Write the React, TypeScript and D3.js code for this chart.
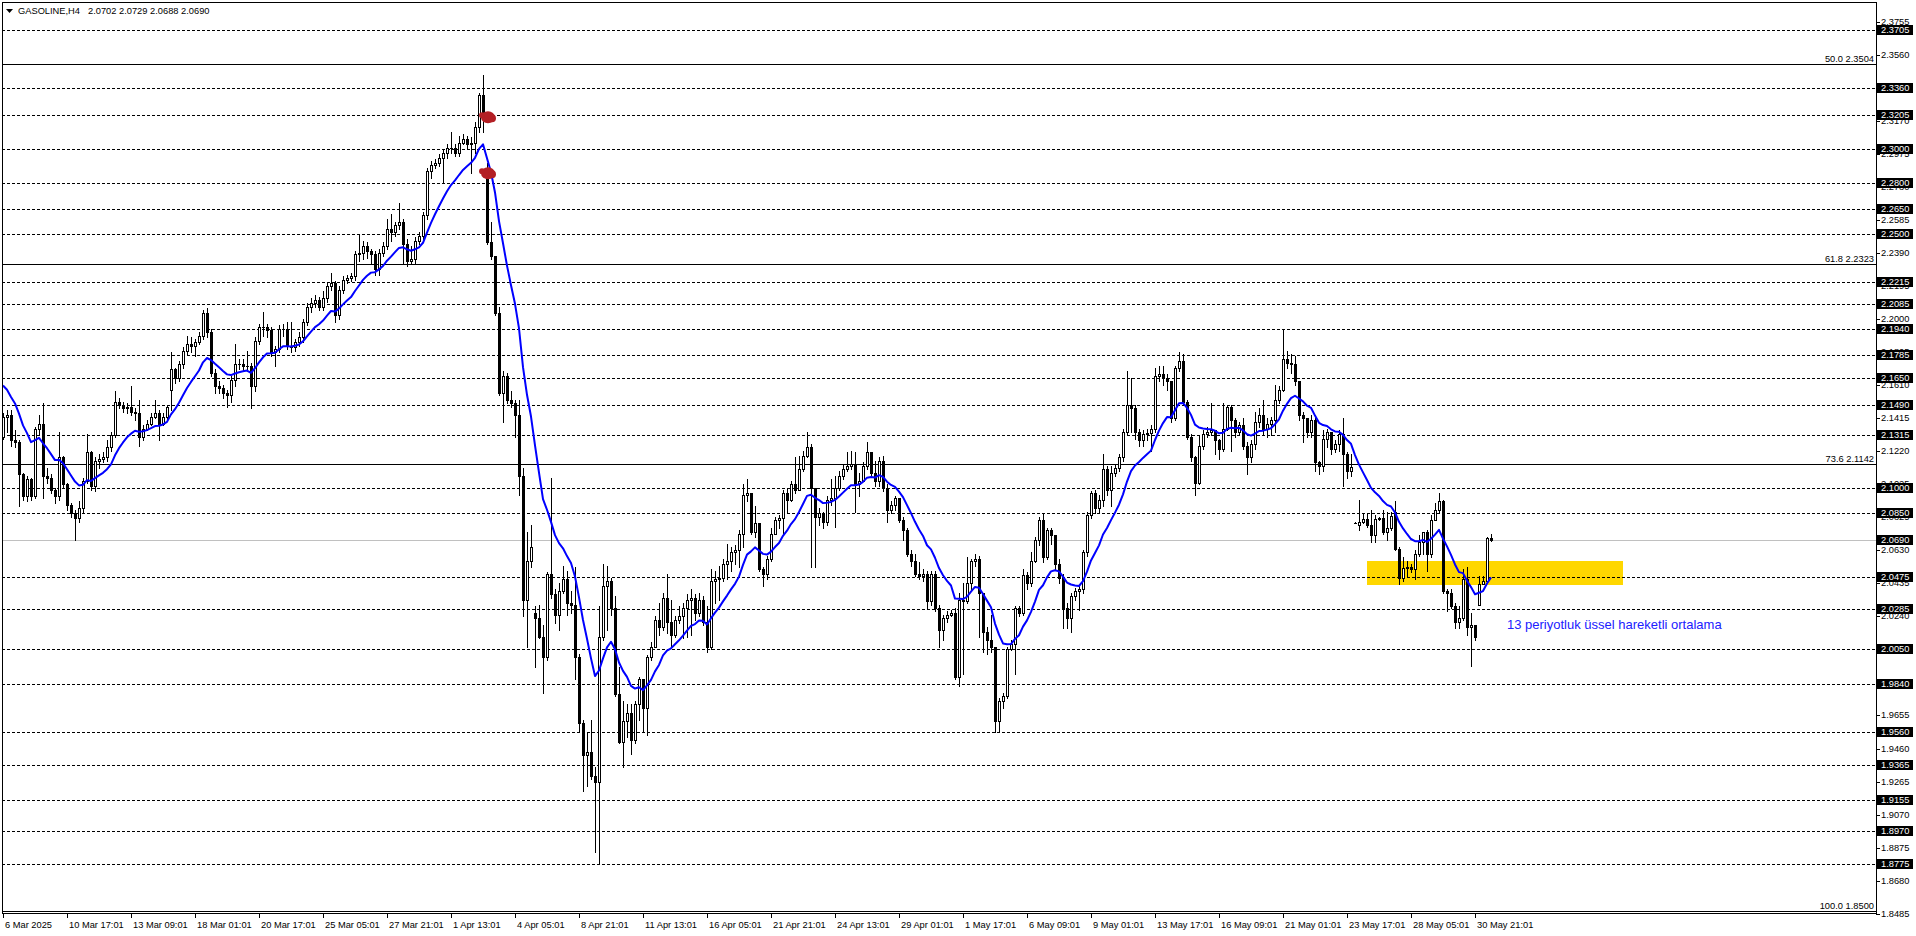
import React, { useEffect, useRef } from 'react';
import * as d3 from 'd3';

const W = 1916;
const H = 936;

// H4 bars, 6 Mar 2025 -> 30 May 2025
const firstOpen = 2.130;
const emaSeed = 2.1635;
const emaPeriod = 13;

const closes = [
  2.142, 2.143, 2.128, 2.127, 2.108, 2.095, 2.105, 2.095, 2.135, 2.138,
  2.107, 2.106, 2.099, 2.095, 2.118, 2.102, 2.090, 2.085, 2.082, 2.088,
  2.104, 2.121, 2.101, 2.116, 2.117, 2.118, 2.124, 2.131, 2.151, 2.149,
  2.147, 2.148, 2.145, 2.144, 2.130, 2.135, 2.138, 2.142, 2.144, 2.138,
  2.142, 2.148, 2.170, 2.165, 2.173, 2.181, 2.185, 2.184, 2.186, 2.190,
  2.203, 2.192, 2.168, 2.160, 2.159, 2.156, 2.155, 2.164, 2.173, 2.173,
  2.172, 2.172, 2.160, 2.187, 2.195, 2.195, 2.193, 2.180, 2.182, 2.194,
  2.194, 2.184, 2.183, 2.186, 2.189, 2.198, 2.207, 2.209, 2.211, 2.207,
  2.212, 2.219, 2.221, 2.202, 2.217, 2.223, 2.224, 2.225, 2.238, 2.239,
  2.243, 2.240, 2.238, 2.229, 2.239, 2.243, 2.253, 2.251, 2.255, 2.257,
  2.244, 2.234, 2.235, 2.246, 2.249, 2.261, 2.287, 2.291, 2.292, 2.295,
  2.298, 2.301, 2.301, 2.298, 2.304, 2.306, 2.303, 2.304, 2.313, 2.332,
  2.319, 2.245, 2.237, 2.203, 2.156, 2.166, 2.152, 2.150, 2.143, 2.107,
  2.034, 2.057, 2.065, 2.023, 2.012, 2.000, 2.049, 2.037, 2.025, 2.039,
  2.046, 2.032, 2.031, 2.000, 1.961, 1.942, 1.944, 1.930, 1.926, 2.012,
  2.042, 2.045, 2.029, 1.978, 1.950, 1.962, 1.967, 1.951, 1.972, 1.987,
  1.970, 2.000, 2.006, 2.022, 2.018, 2.035, 2.021, 2.013, 2.022, 2.024,
  2.029, 2.034, 2.035, 2.026, 2.034, 2.021, 2.006, 2.045, 2.046, 2.047,
  2.055, 2.057, 2.062, 2.063, 2.073, 2.096, 2.097, 2.074, 2.079, 2.052,
  2.049, 2.058, 2.073, 2.081, 2.082, 2.097, 2.093, 2.102, 2.099, 2.111,
  2.119, 2.124, 2.100, 2.083, 2.085, 2.080, 2.093, 2.094, 2.100, 2.107,
  2.111, 2.113, 2.114, 2.102, 2.104, 2.113, 2.121, 2.109, 2.104, 2.116,
  2.100, 2.087, 2.090, 2.094, 2.081, 2.075, 2.061, 2.057, 2.049, 2.048,
  2.049, 2.033, 2.049, 2.029, 2.016, 2.023, 2.025, 2.026, 1.988, 2.034,
  2.033, 2.044, 2.057, 2.058, 2.038, 2.015, 2.010, 2.006, 1.962, 1.974,
  1.977, 2.005, 2.008, 2.029, 2.026, 2.0485, 2.044, 2.057, 2.069, 2.081,
  2.059, 2.075, 2.072, 2.055, 2.047, 2.029, 2.023, 2.036, 2.039, 2.040,
  2.062, 2.084, 2.097, 2.088, 2.093, 2.111, 2.099, 2.109, 2.112, 2.118,
  2.133, 2.149, 2.147, 2.133, 2.128, 2.132, 2.1325, 2.135, 2.166, 2.167,
  2.165, 2.163, 2.141, 2.171, 2.175, 2.151, 2.130, 2.118, 2.103, 2.125,
  2.132, 2.133, 2.134, 2.128, 2.123, 2.135, 2.148, 2.140, 2.133, 2.137,
  2.125, 2.118, 2.126, 2.139, 2.143, 2.135, 2.138, 2.140, 2.152, 2.158,
  2.176, 2.174, 2.173, 2.163, 2.143, 2.141, 2.133, 2.140, 2.115, 2.113,
  2.129, 2.133, 2.123, 2.126, 2.132, 2.120, 2.110, 2.1125, 2.0795, 2.080,
  2.0814, 2.078, 2.072, 2.0814, 2.0824, 2.074, 2.0765, 2.0834, 2.064, 2.047,
  2.0525, 2.053, 2.052, 2.061, 2.068, 2.074, 2.061, 2.081, 2.087, 2.092,
  2.039, 2.038, 2.030, 2.021, 2.023, 2.046, 2.018, 2.019, 2.012, 2.043,
  2.045, 2.0702, 2.0690,
];

const highs = [
  2.144, 2.146, 2.146, 2.134, 2.128, 2.109, 2.107, 2.106, 2.136, 2.143,
  2.150, 2.112, 2.108, 2.100, 2.133, 2.119, 2.103, 2.091, 2.087, 2.092,
  2.106, 2.132, 2.122, 2.118, 2.120, 2.121, 2.128, 2.133, 2.157, 2.153,
  2.151, 2.150, 2.160, 2.147, 2.152, 2.137, 2.140, 2.144, 2.152, 2.146,
  2.144, 2.149, 2.180, 2.171, 2.175, 2.183, 2.190, 2.189, 2.188, 2.192,
  2.205, 2.206, 2.194, 2.170, 2.163, 2.161, 2.158, 2.166, 2.185, 2.176,
  2.176, 2.181, 2.174, 2.189, 2.197, 2.204, 2.197, 2.195, 2.184, 2.196,
  2.197, 2.198, 2.198, 2.188, 2.192, 2.200, 2.209, 2.212, 2.214, 2.213,
  2.216, 2.221, 2.227, 2.222, 2.219, 2.225, 2.226, 2.227, 2.240, 2.250,
  2.246, 2.245, 2.241, 2.240, 2.241, 2.245, 2.259, 2.262, 2.257, 2.268,
  2.259, 2.247, 2.243, 2.248, 2.251, 2.263, 2.289, 2.293, 2.294, 2.297,
  2.300, 2.303, 2.310, 2.303, 2.308, 2.309, 2.308, 2.307, 2.316, 2.333,
  2.344, 2.292, 2.257, 2.236, 2.207, 2.169, 2.168, 2.157, 2.152, 2.152,
  2.112, 2.074, 2.078, 2.030, 2.031, 2.019, 2.050, 2.106, 2.040, 2.044,
  2.054, 2.051, 2.039, 2.053, 2.002, 1.963, 1.955, 1.963, 1.935, 2.030,
  2.055, 2.054, 2.047, 2.036, 1.994, 1.974, 1.972, 1.972, 1.974, 1.988,
  1.987, 2.001, 2.009, 2.024, 2.032, 2.038, 2.049, 2.034, 2.024, 2.030,
  2.032, 2.037, 2.040, 2.037, 2.038, 2.036, 2.030, 2.052, 2.051, 2.054,
  2.058, 2.067, 2.065, 2.066, 2.075, 2.102, 2.105, 2.093, 2.089, 2.079,
  2.053, 2.060, 2.076, 2.083, 2.084, 2.099, 2.100, 2.104, 2.118, 2.119,
  2.122, 2.133, 2.126, 2.095, 2.088, 2.086, 2.095, 2.105, 2.107, 2.110,
  2.114, 2.121, 2.122, 2.121, 2.109, 2.115, 2.127, 2.121, 2.116, 2.118,
  2.119, 2.102, 2.092, 2.095, 2.094, 2.083, 2.076, 2.063, 2.061, 2.056,
  2.052, 2.051, 2.051, 2.051, 2.031, 2.025, 2.027, 2.028, 2.029, 2.038,
  2.044, 2.059, 2.058, 2.061, 2.060, 2.038, 2.018, 2.025, 2.006, 1.976,
  1.979, 2.006, 2.010, 2.030, 2.030, 2.052, 2.050, 2.062, 2.071, 2.083,
  2.085, 2.076, 2.076, 2.072, 2.058, 2.049, 2.032, 2.038, 2.041, 2.042,
  2.063, 2.086, 2.098, 2.099, 2.096, 2.120, 2.113, 2.113, 2.114, 2.120,
  2.135, 2.169, 2.165, 2.149, 2.135, 2.134, 2.135, 2.137, 2.171, 2.172,
  2.172, 2.167, 2.163, 2.172, 2.180, 2.179, 2.152, 2.132, 2.119, 2.131,
  2.134, 2.136, 2.150, 2.134, 2.129, 2.150, 2.149, 2.149, 2.141, 2.139,
  2.141, 2.127, 2.128, 2.145, 2.147, 2.152, 2.141, 2.142, 2.161, 2.160,
  2.194, 2.181, 2.179, 2.178, 2.163, 2.145, 2.141, 2.143, 2.142, 2.116,
  2.134, 2.135, 2.127, 2.128, 2.134, 2.141, 2.121, 2.120, 2.0797, 2.093,
  2.085, 2.085, 2.087, 2.084, 2.083, 2.087, 2.086, 2.086, 2.092, 2.065,
  2.059, 2.057, 2.055, 2.063, 2.072, 2.074, 2.075, 2.084, 2.091, 2.097,
  2.093, 2.040, 2.040, 2.032, 2.030, 2.052, 2.053, 2.026, 2.019, 2.048,
  2.048, 2.071, 2.0729,
];

const lows = [
  2.129, 2.133, 2.125, 2.124, 2.089, 2.093, 2.092, 2.093, 2.094, 2.132,
  2.094, 2.103, 2.097, 2.091, 2.093, 2.100, 2.087, 2.083, 2.069, 2.080,
  2.086, 2.103, 2.099, 2.098, 2.112, 2.115, 2.116, 2.122, 2.130, 2.147,
  2.145, 2.144, 2.143, 2.140, 2.125, 2.128, 2.134, 2.137, 2.141, 2.128,
  2.137, 2.140, 2.146, 2.162, 2.163, 2.171, 2.179, 2.180, 2.178, 2.185,
  2.188, 2.189, 2.166, 2.156, 2.156, 2.153, 2.148, 2.151, 2.160, 2.170,
  2.169, 2.169, 2.147, 2.157, 2.185, 2.190, 2.189, 2.178, 2.172, 2.180,
  2.190, 2.182, 2.180, 2.181, 2.184, 2.186, 2.196, 2.204, 2.207, 2.205,
  2.205, 2.210, 2.217, 2.198, 2.200, 2.215, 2.221, 2.222, 2.223, 2.234,
  2.235, 2.236, 2.233, 2.226, 2.226, 2.237, 2.241, 2.246, 2.249, 2.253,
  2.233, 2.231, 2.232, 2.233, 2.244, 2.247, 2.259, 2.283, 2.289, 2.290,
  2.280, 2.295, 2.298, 2.296, 2.296, 2.303, 2.300, 2.286, 2.298, 2.310,
  2.310, 2.244, 2.235, 2.202, 2.155, 2.139, 2.150, 2.148, 2.130, 2.096,
  2.024, 2.006, 2.053, 1.994, 2.011, 1.979, 1.998, 2.035, 2.020, 2.016,
  2.038, 2.025, 2.026, 1.987, 1.956, 1.921, 1.924, 1.928, 1.885, 1.878,
  2.010, 2.016, 2.025, 1.977, 1.949, 1.935, 1.953, 1.943, 1.949, 1.963,
  1.956, 1.954, 1.998, 2.006, 2.013, 2.016, 2.014, 2.006, 2.012, 2.020,
  2.011, 2.012, 2.013, 2.022, 2.024, 2.019, 2.003, 2.005, 2.032, 2.034,
  2.045, 2.046, 2.051, 2.055, 2.053, 2.065, 2.092, 2.073, 2.071, 2.051,
  2.042, 2.046, 2.057, 2.075, 2.076, 2.073, 2.085, 2.092, 2.097, 2.099,
  2.110, 2.118, 2.053, 2.053, 2.078, 2.076, 2.078, 2.090, 2.077, 2.099,
  2.105, 2.110, 2.111, 2.086, 2.095, 2.104, 2.111, 2.107, 2.101, 2.101,
  2.098, 2.080, 2.085, 2.087, 2.080, 2.069, 2.060, 2.054, 2.048, 2.046,
  2.045, 2.029, 2.031, 2.027, 2.006, 2.010, 2.021, 2.024, 1.987, 1.983,
  1.990, 2.032, 2.040, 2.054, 2.012, 2.003, 2.002, 2.003, 1.956, 1.956,
  1.970, 1.976, 2.004, 1.990, 2.024, 2.025, 2.040, 2.042, 2.056, 2.066,
  2.056, 2.058, 2.067, 2.052, 2.044, 2.017, 2.017, 2.015, 2.034, 2.028,
  2.038, 2.060, 2.082, 2.085, 2.086, 2.089, 2.096, 2.089, 2.107, 2.110,
  2.116, 2.131, 2.133, 2.129, 2.125, 2.125, 2.128, 2.122, 2.133, 2.163,
  2.161, 2.158, 2.139, 2.140, 2.169, 2.149, 2.129, 2.116, 2.096, 2.102,
  2.123, 2.130, 2.131, 2.120, 2.117, 2.122, 2.134, 2.122, 2.130, 2.131,
  2.123, 2.108, 2.115, 2.123, 2.136, 2.132, 2.130, 2.131, 2.133, 2.150,
  2.157, 2.171, 2.168, 2.161, 2.140, 2.127, 2.130, 2.130, 2.110, 2.108,
  2.110, 2.124, 2.120, 2.121, 2.122, 2.101, 2.106, 2.107, 2.0792, 2.075,
  2.079, 2.077, 2.068, 2.068, 2.081, 2.073, 2.069, 2.075, 2.063, 2.043,
  2.045, 2.048, 2.050, 2.046, 2.060, 2.061, 2.051, 2.059, 2.081, 2.086,
  2.038, 2.027, 2.029, 2.017, 2.017, 2.022, 2.013, 1.995, 2.010, 2.031,
  2.044, 2.045, 2.0688,
];

// bars whose open differs from the previous close (price gaps)
const gapOpens: Record<number, number> = {
  42: 2.158, 121: 2.286, 133: 2.026, 338: 2.0795, 339: 2.078, 348: 2.086, 369: 2.031,
};

const dateLabels = [
  '6 Mar 2025', '10 Mar 17:01', '13 Mar 09:01', '18 Mar 01:01', '20 Mar 17:01', '25 Mar 05:01',
  '27 Mar 21:01', '1 Apr 13:01', '4 Apr 05:01', '8 Apr 21:01', '11 Apr 13:01', '16 Apr 05:01',
  '21 Apr 21:01', '24 Apr 13:01', '29 Apr 01:01', '1 May 17:01', '6 May 09:01', '9 May 01:01',
  '13 May 17:01', '16 May 09:01', '21 May 01:01', '23 May 17:01', '28 May 05:01', '30 May 21:01',
];
const barsPerLabel = 16;

const axisTicks = [
  2.3755, 2.3560, 2.3365, 2.3170, 2.2975, 2.2780, 2.2585, 2.2390, 2.2195, 2.2000,
  2.1805, 2.1610, 2.1415, 2.1220, 2.1025, 2.0825, 2.0630, 2.0435, 2.0240, 2.0045,
  1.9850, 1.9655, 1.9460, 1.9265, 1.9070, 1.8875, 1.8680, 1.8485,
];

// horizontal support / resistance lines
const levelPrices = [
  2.3705, 2.3360, 2.3205, 2.3000, 2.2800, 2.2650, 2.2500, 2.2215, 2.2085, 2.1940,
  2.1785, 2.1650, 2.1490, 2.1315, 2.1000, 2.0850, 2.0475, 2.0285, 2.0050, 1.9840,
  1.9560, 1.9365, 1.9155, 1.8970, 1.8775,
];

const fibRatios = ['50.0', '61.8', '73.6', '100.0'];
const fibPrices = [2.3504, 2.2323, 2.1142, 1.8500];

const bidPrice = 2.0690;
const title = 'GASOLINE,H4';
const titleValues = '2.0702 2.0729 2.0688 2.0690';

const gapMarks = [
  { bar: 121, price: 2.3195 },
  { bar: 121, price: 2.2865 },
];

const zone = { startBar: 341, endBar: 405, top: 2.0568, bottom: 2.0426 };
const note = { bar: 376, price: 2.0168, text: '13 periyotluk üssel hareketli ortalama' };

const App: React.FC = () => {
  const svgRef = useRef<SVGSVGElement>(null);

  useEffect(() => {
    const svg = d3.select(svgRef.current);
    svg.selectAll('*').remove();

    const left = 2, right = 1876, top = 2, bottom = 913;
    const font = "'Liberation Sans', Arial, sans-serif";
    const fs = 9.3;

    const y = d3.scaleLinear().domain([1.85, 2.3504]).range([911, 64]);
    const x = d3.scaleLinear().domain([0, 1]).range([3, 7]);
    const py = (p: number) => Math.round(y(p));
    const px = (i: number) => Math.round(x(i));

    svg.append('rect').attr('width', W).attr('height', H).attr('fill', '#fff');

    svg.append('clipPath').attr('id', 'plot-clip')
      .append('rect').attr('x', left).attr('y', top)
      .attr('width', right - left).attr('height', bottom - top);
    const g = svg.append('g').attr('clip-path', 'url(#plot-clip)');

    // yellow zone
    g.append('rect')
      .attr('x', px(zone.startBar)).attr('y', py(zone.top))
      .attr('width', px(zone.endBar) - px(zone.startBar))
      .attr('height', py(zone.bottom) - py(zone.top))
      .attr('fill', '#ffd700');

    // dashed levels
    g.selectAll('line.level').data(levelPrices).enter().append('line')
      .attr('class', 'level')
      .attr('x1', left).attr('x2', right)
      .attr('y1', d => py(d) + 0.5).attr('y2', d => py(d) + 0.5)
      .attr('stroke', '#000').attr('stroke-width', 1)
      .attr('stroke-dasharray', '3,2').attr('shape-rendering', 'crispEdges');

    // fibo lines
    g.selectAll('line.fib').data(fibPrices).enter().append('line')
      .attr('class', 'fib')
      .attr('x1', left).attr('x2', right)
      .attr('y1', d => py(d) + 0.5).attr('y2', d => py(d) + 0.5)
      .attr('stroke', '#000').attr('stroke-width', 1).attr('shape-rendering', 'crispEdges');

    // bid line
    g.append('line')
      .attr('x1', left).attr('x2', right)
      .attr('y1', py(bidPrice) + 0.5).attr('y2', py(bidPrice) + 0.5)
      .attr('stroke', '#c0c0c0').attr('stroke-width', 1).attr('shape-rendering', 'crispEdges');

    // candles
    const opens = closes.map((c, i) => gapOpens[i] ?? (i === 0 ? firstOpen : closes[i - 1]));
    const candles = g.append('g').attr('shape-rendering', 'crispEdges');
    closes.forEach((c, i) => {
      const o = opens[i];
      const hi = Math.max(highs[i], o, c);
      const lo = Math.min(lows[i], o, c);
      const cx = px(i);
      const yh = py(hi), yl = py(lo);
      candles.append('rect').attr('x', cx).attr('y', yh).attr('width', 1)
        .attr('height', yl - yh + 1).attr('fill', '#000');
      const yt = py(Math.max(o, c)), yb = py(Math.min(o, c));
      if (c > o && yb - yt >= 2) {
        candles.append('rect').attr('x', cx - 0.5).attr('y', yt + 0.5)
          .attr('width', 2).attr('height', yb - yt)
          .attr('fill', '#fff').attr('stroke', '#000').attr('stroke-width', 1);
      } else {
        candles.append('rect').attr('x', cx - 1).attr('y', yt)
          .attr('width', 3).attr('height', yb - yt + 1).attr('fill', '#000');
      }
    });

    // EMA 13
    const k = 2 / (emaPeriod + 1);
    let prev = emaSeed;
    const ema = closes.map(c => (prev = prev + k * (c - prev)));
    const line = d3.line<number>().x((_, i) => x(i)).y(v => y(v));
    g.append('path').attr('d', line(ema) || '')
      .attr('fill', 'none').attr('stroke', '#0000ff').attr('stroke-width', 2)
      .attr('stroke-linejoin', 'round');

    // gap marks
    gapMarks.forEach(m => {
      const cx = x(m.bar), cy = y(m.price);
      const blob = g.append('g').attr('fill', '#b31f24');
      blob.append('ellipse').attr('cx', cx + 1).attr('cy', cy + 1).attr('rx', 7).attr('ry', 6);
      blob.append('circle').attr('cx', cx - 5).attr('cy', cy - 1).attr('r', 3);
      blob.append('circle').attr('cx', cx + 5).attr('cy', cy + 2).attr('r', 4);
    });

    // note text
    g.append('text').attr('x', x(note.bar)).attr('y', y(note.price))
      .attr('font-family', font).attr('font-size', 13).attr('fill', '#2020ff')
      .text(note.text);

    // fibo labels
    svg.selectAll('text.fib').data(fibPrices).enter().append('text')
      .attr('class', 'fib')
      .attr('x', right - 2).attr('y', d => py(d) - 2)
      .attr('text-anchor', 'end').attr('font-family', font).attr('font-size', fs).attr('fill', '#000')
      .text((d, i) => `${fibRatios[i]} ${d.toFixed(4)}`);

    // frame
    svg.append('rect').attr('x', left + 0.5).attr('y', top + 0.5)
      .attr('width', right - left).attr('height', bottom - top)
      .attr('fill', 'none').attr('stroke', '#000').attr('shape-rendering', 'crispEdges');

    // right price axis
    const axisG = svg.append('g');
    axisTicks.forEach(t => {
      const ty = py(t);
      axisG.append('line').attr('x1', right).attr('x2', right + 4)
        .attr('y1', ty + 0.5).attr('y2', ty + 0.5).attr('stroke', '#000')
        .attr('shape-rendering', 'crispEdges');
      axisG.append('text').attr('x', right + 5).attr('y', ty + 3.4)
        .attr('font-family', font).attr('font-size', fs).attr('fill', '#000')
        .text(t.toFixed(4));
    });
    [...levelPrices, bidPrice].forEach(p => {
      const ty = py(p);
      axisG.append('rect').attr('x', right + 1).attr('y', ty - 5)
        .attr('width', 36).attr('height', 10).attr('fill', '#000');
      axisG.append('text').attr('x', right + 5).attr('y', ty + 3.4)
        .attr('font-family', font).attr('font-size', fs).attr('fill', '#fff')
        .text(p.toFixed(4));
    });

    // bottom time axis
    dateLabels.forEach((lab, j) => {
      const tx = px(j * barsPerLabel);
      svg.append('line').attr('x1', tx + 0.5).attr('x2', tx + 0.5)
        .attr('y1', bottom).attr('y2', bottom + 5).attr('stroke', '#000')
        .attr('shape-rendering', 'crispEdges');
      svg.append('text').attr('x', tx + 2).attr('y', bottom + 15)
        .attr('font-family', font).attr('font-size', fs).attr('fill', '#000')
        .text(lab);
    });

    // title
    svg.append('path').attr('d', 'M6,9 L13,9 L9.5,13 Z').attr('fill', '#000');
    svg.append('text').attr('x', 18).attr('y', 14)
      .attr('font-family', font).attr('font-size', fs).attr('fill', '#000').text(title);
    svg.append('text').attr('x', 88).attr('y', 14)
      .attr('font-family', font).attr('font-size', fs).attr('fill', '#000').text(titleValues);
  }, []);

  return (
    <div style={{ position: 'fixed', left: 0, top: 0, width: W, height: H, background: '#fff' }}>
      <svg ref={svgRef} width={W} height={H} style={{ display: 'block' }}></svg>
    </div>
  );
};

export default App;
